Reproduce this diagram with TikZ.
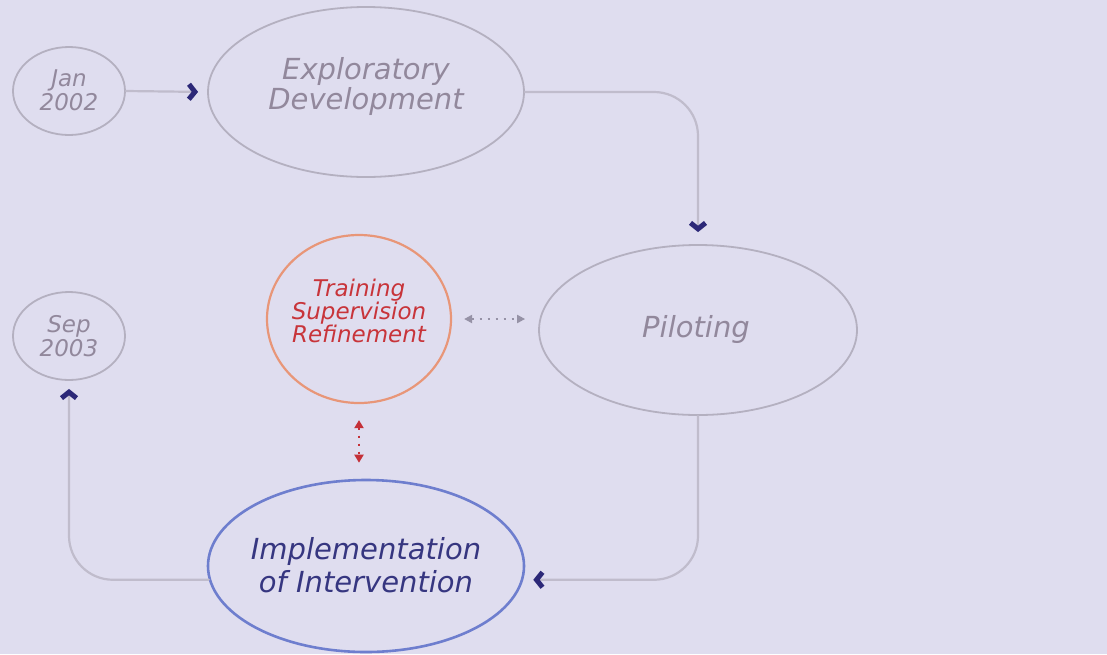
\documentclass[tikz,border=0pt]{standalone}
\usepackage{fontspec}
\setmainfont{DejaVu Sans}
\usetikzlibrary{shapes.geometric,arrows.meta}
\definecolor{bg}{RGB}{223,221,239}
\definecolor{gline}{RGB}{180,176,192}
\definecolor{gtext}{RGB}{146,136,156}
\definecolor{conn}{RGB}{192,188,204}
\definecolor{navy}{RGB}{44,40,120}
\definecolor{ored}{RGB}{232,150,120}
\definecolor{rtext}{RGB}{200,52,58}
\definecolor{bline}{RGB}{110,126,206}
\definecolor{btext}{RGB}{54,54,128}
\definecolor{dgray}{RGB}{150,146,166}
\definecolor{dred}{RGB}{196,48,56}
\begin{document}
\begin{tikzpicture}[x=1pt,y=-1pt,
  shapebox/.style={ellipse,draw=gline,line width=1.8pt,inner sep=0pt},
  txt/.style={align=center,font=\itshape},
  bigtxt/.style={txt,text=gtext,font=\fontsize{29}{30}\selectfont\itshape},
  smalltxt/.style={txt,text=gtext,font=\fontsize{23}{24}\selectfont\itshape},
  connector/.style={draw=conn,line width=2.2pt,rounded corners=44pt,line cap=round,
    -{Straight Barb[length=6pt,width=15pt,line width=5pt,color=navy]}},
  dotgray/.style={draw=dgray,line width=2pt,dash pattern=on 2pt off 6pt,
    {Triangle[length=8pt,width=8pt]}-{Triangle[length=8pt,width=8pt]}},
  dotred/.style={draw=dred,line width=2pt,dash pattern=on 2pt off 6pt,
    {Triangle[length=8pt,width=9pt]}-{Triangle[length=8pt,width=9pt]}}
]
\useasboundingbox[fill=bg] (0,0) rectangle (1107,654);

\node[shapebox,minimum width=112pt,minimum height=88pt] (jan) at (69,91) {};
\node[smalltxt] (janT) at (69,90) {Jan\\2002};

\node[shapebox,minimum width=316pt,minimum height=170pt] (expl) at (366,92) {};
\node[bigtxt] (explT) at (366,86) {Exploratory\\Development};

\node[shapebox,minimum width=318pt,minimum height=170pt] (pilot) at (698,330) {};
\node[bigtxt] (pilotT) at (696,329) {Piloting};

\node[shapebox,minimum width=112pt,minimum height=88pt] (sep) at (69,336) {};
\node[smalltxt] (sepT) at (69,336) {Sep\\2003};

\node[ellipse,draw=ored,line width=2.2pt,inner sep=0pt,minimum width=184pt,minimum height=168pt] (train) at (359,319) {};
\node[txt,text=rtext,font=\fontsize{23}{23}\selectfont\itshape] (trainT) at (359,311) {Training\\Supervision\\Refinement};

\node[ellipse,draw=bline,line width=2.6pt,inner sep=0pt,minimum width=316pt,minimum height=172pt] (impl) at (366,566) {};
\node[txt,text=btext,font=\fontsize{29}{33}\selectfont\itshape] (implT) at (366,565) {Implementation\\of Intervention};

\draw[connector,shorten >=9pt] (jan.east) -- (expl.west);
\draw[connector,shorten >=12pt] (expl.east) -| (pilot.north);
\draw[connector,shorten >=10pt] (pilot.south) |- (impl.355);
\draw[connector,shorten >=8pt] (impl.185) -| (sep.south);

\draw[dotgray,shorten <=12pt,shorten >=13pt] (train.east) -- (pilot.west |- train.east);
\draw[dotred,shorten <=16pt,shorten >=16pt] (train.south) -- (impl.north -| train.south);
\end{tikzpicture}
\end{document}
